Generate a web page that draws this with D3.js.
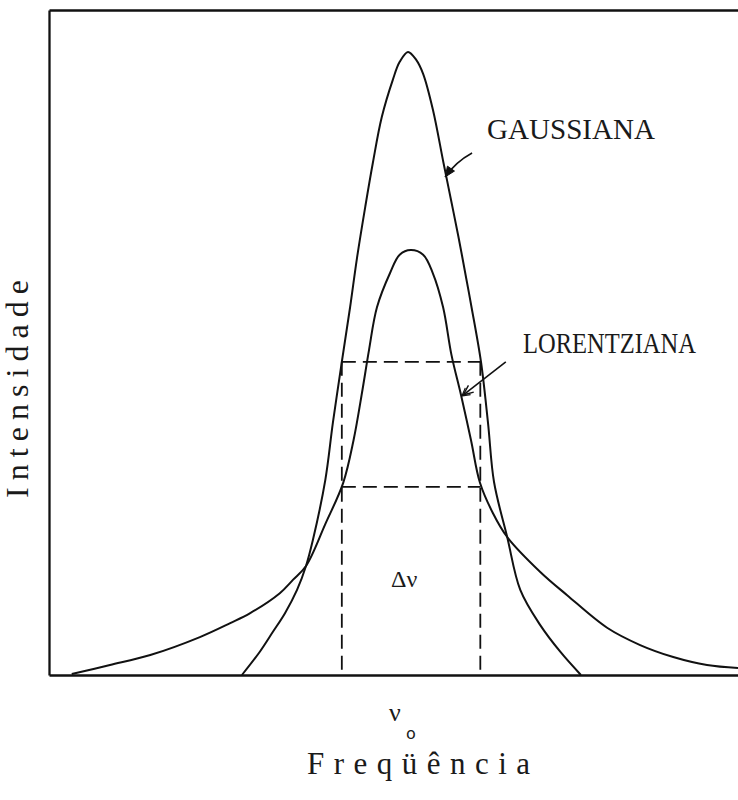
<!DOCTYPE html>
<html>
<head>
<meta charset="utf-8">
<script src="https://cdn.jsdelivr.net/npm/d3@7"></script>
<style>
  html, body { margin: 0; padding: 0; background: #fff; }
  svg { display: block; }
</style>
</head>
<body>
<div id="chart"></div>
<script>
// ---------------- data (arbitrary units: frequency 0..100, intensity 0..100) ----------------
const gaussFreq = [28.0, 30.6, 32.5, 34.25, 36.0, 37.3, 38.3, 40.1, 41.2, 42.5, 43.7, 44.7, 45.9, 47.0, 48.3, 49.9, 50.9, 52.1, 53.3, 54.3, 55.73, 57.26, 58.35, 59.43, 60.6, 61.32, 62.7, 63.72, 64.59, 66.5, 68.4, 71.3, 74.2, 77.2];
const gaussInt  = [0, 3.5, 6.5, 9.3, 12.8, 16.4, 20.3, 29.3, 37.9, 47.1, 55.3, 62.7, 70.4, 77.0, 83.9, 89.5, 92.2, 93.7, 92.5, 90.4, 84.96, 76.99, 71.43, 65.86, 59.4, 55.34, 47.07, 37.89, 29.02, 20.75, 12.8, 7.5, 3.5, 0];

const lorFreq = [3.3, 8.85, 14.7, 21.9, 26.3, 29.2, 33.5, 35.4, 37.3, 40.1, 42.7, 44.2, 45.5, 46.45, 47.6, 49.5, 50.9, 52.5, 54.3, 55.7, 57.2, 58.42, 59.8, 61.25, 62.55, 64.4, 66.5, 71.3, 75.2, 81.0, 85.8, 90.6, 95.5, 100];
const lorInt  = [0.15, 1.5, 3.0, 5.7, 7.8, 9.3, 12.3, 14.3, 16.4, 22.7, 28.9, 35.3, 42.9, 48.9, 55.3, 60.45, 63.2, 63.9, 63.2, 60.45, 55.3, 48.1, 42.1, 35.3, 28.9, 24.4, 20.75, 15.5, 12.0, 7.1, 4.5, 2.7, 1.5, 1.05];

// full-width-at-half-maximum construction
const deltaEdges = [42.5, 62.6];       // frequencies of the two vertical dashed lines
const halfLevels = [47.1, 28.3];       // intensities of the two horizontal dashed lines

// labels and annotation arrows (tail -> tip, in data units)
const curveLabels = ["GAUSSIANA", "LORENTZIANA"];
const arrowTails = [[61.4, 78.5], [66.3, 47.1]];
const arrowTips  = [[57.5, 74.9], [60.1, 42.1]];
const axisLabels = ["Intensidade", "Freqüência"];

// ---------------- layout ----------------
const W = 738, H = 800;
const svg = d3.select("#chart").append("svg").attr("width", W).attr("height", H);

const x = d3.scaleLinear().domain([0, 100]).range([49, 738]);
const y = d3.scaleLinear().domain([0, 100]).range([675, 10]);

const ink = "#111";

// frame (left, bottom, top)
const axStyle = g => {
  g.select(".domain").attr("stroke", ink).attr("stroke-width", 2.3);
  g.selectAll(".tick").remove();
};
svg.append("g").attr("transform", "translate(0,675)")
  .call(d3.axisBottom(x).tickValues([]).tickSizeOuter(0)).call(axStyle);
svg.append("g").attr("transform", "translate(49,0)")
  .call(d3.axisLeft(y).tickValues([]).tickSizeOuter(0)).call(axStyle);
svg.append("g").attr("transform", "translate(0,10)")
  .call(d3.axisTop(x).tickValues([]).tickSizeOuter(0)).call(axStyle);

// curves
const line = d3.line()
  .x(d => x(d[0])).y(d => y(d[1]))
  .curve(d3.curveCatmullRom.alpha(0.5));

const gauss = gaussFreq.map((f, i) => [f, gaussInt[i]]);
const lor = lorFreq.map((f, i) => [f, lorInt[i]]);

svg.append("path").datum(gauss).attr("d", line)
  .attr("fill", "none").attr("stroke", ink).attr("stroke-width", 2);
svg.append("path").datum(lor).attr("d", line)
  .attr("fill", "none").attr("stroke", ink).attr("stroke-width", 2);

// dashed FWHM box
const dashG = svg.append("g").attr("stroke", ink).attr("stroke-width", 1.8)
  .attr("stroke-dasharray", "14,7").attr("fill", "none");
halfLevels.forEach(h => {
  dashG.append("line")
    .attr("x1", x(deltaEdges[0])).attr("x2", x(deltaEdges[1]))
    .attr("y1", y(h)).attr("y2", y(h));
});
deltaEdges.forEach(f => {
  dashG.append("line")
    .attr("x1", x(f)).attr("x2", x(f))
    .attr("y1", y(halfLevels[0])).attr("y2", y(0));
});

// arrows
arrowTails.forEach((t, i) => {
  const tip = arrowTips[i];
  const x0 = x(t[0]), y0 = y(t[1]), x1 = x(tip[0]), y1 = y(tip[1]);
  const mx = (x0 + x1) / 2 + (i === 0 ? -3 : 0), my = (y0 + y1) / 2 + (i === 0 ? -3 : 0);
  svg.append("path")
    .attr("d", `M${x0},${y0} Q${mx},${my} ${x1},${y1}`)
    .attr("fill", "none").attr("stroke", ink).attr("stroke-width", 1.6);
  const ang = Math.atan2(y1 - my, x1 - mx);
  const L = 11, a = 0.4;
  const p1 = [x1 - L * Math.cos(ang - a), y1 - L * Math.sin(ang - a)];
  const p2 = [x1 - L * Math.cos(ang + a), y1 - L * Math.sin(ang + a)];
  if (i === 0) {
    svg.append("path")
      .attr("d", `M${p1[0]},${p1[1]} L${x1},${y1} L${p2[0]},${p2[1]} Z`)
      .attr("fill", ink).attr("stroke", ink).attr("stroke-width", 1);
  } else {
    svg.append("path")
      .attr("d", `M${p1[0]},${p1[1]} L${x1},${y1} L${p2[0]},${p2[1]}`)
      .attr("fill", "none").attr("stroke", ink).attr("stroke-width", 1.4);
    const q1 = [p1[0] + 4 * Math.cos(ang), p1[1] + 4 * Math.sin(ang)];
    const q2 = [p2[0] + 4 * Math.cos(ang), p2[1] + 4 * Math.sin(ang)];
    svg.append("path")
      .attr("d", `M${q1[0]},${q1[1]} L${x1 + 1.5 * Math.cos(ang)},${y1 + 1.5 * Math.sin(ang)} L${q2[0]},${q2[1]}`)
      .attr("fill", "none").attr("stroke", ink).attr("stroke-width", 1.2);
  }
});

// text (typewriter look: thin serif, evenly spaced)
const serif = "'Liberation Serif', 'DejaVu Serif', serif";
const txt = "#1a1a1a";

svg.append("text").text(curveLabels[0])
  .attr("x", 487).attr("y", 139)
  .attr("font-family", serif).attr("font-size", 30).attr("fill", txt)
  .attr("textLength", 168).attr("lengthAdjust", "spacingAndGlyphs");

svg.append("text").text(curveLabels[1])
  .attr("x", 523).attr("y", 353)
  .attr("font-family", serif).attr("font-size", 29).attr("fill", txt)
  .attr("textLength", 173).attr("lengthAdjust", "spacingAndGlyphs");

svg.append("text").text("Δν")
  .attr("x", 391).attr("y", 587)
  .attr("font-family", serif).attr("font-size", 24).attr("fill", txt);

svg.append("text").text("ν")
  .attr("x", 389).attr("y", 721)
  .attr("font-family", serif).attr("font-size", 26).attr("fill", txt);
svg.append("text").text("o")
  .attr("x", 406).attr("y", 739)
  .attr("font-family", "'DejaVu Sans', sans-serif").attr("font-size", 16).attr("fill", txt);

svg.append("text").text(axisLabels[1])
  .attr("x", 307).attr("y", 774)
  .attr("font-family", serif).attr("font-size", 31).attr("fill", txt)
  .attr("textLength", 223).attr("lengthAdjust", "spacing");

svg.append("text").text(axisLabels[0])
  .attr("transform", "translate(28,498) rotate(-90)")
  .attr("font-family", serif).attr("font-size", 32).attr("fill", txt)
  .attr("textLength", 218).attr("lengthAdjust", "spacing");
</script>
</body>
</html>
